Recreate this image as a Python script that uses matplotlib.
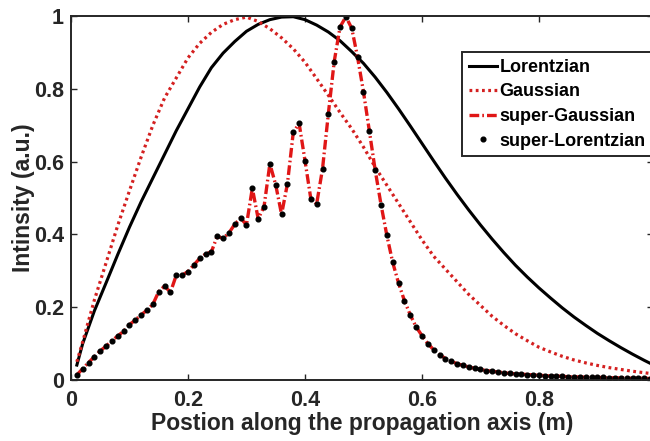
"""Intensity profiles along the propagation axis."""

import matplotlib

matplotlib.use("Agg")

import matplotlib.pyplot as plt
from matplotlib.ticker import FuncFormatter

# smooth profiles
smooth_x = [0.01, 0.02, 0.04, 0.06, 0.08, 0.10, 0.12, 0.14, 0.16, 0.18,
            0.20, 0.22, 0.24, 0.26, 0.28, 0.30, 0.32, 0.34, 0.36, 0.38,
            0.40, 0.42, 0.44, 0.46, 0.48, 0.50, 0.52, 0.54, 0.56, 0.58,
            0.60, 0.62, 0.64, 0.66, 0.68, 0.70, 0.72, 0.74, 0.76, 0.78,
            0.80, 0.82, 0.84, 0.86, 0.88, 0.90, 0.92, 0.94, 0.96, 0.98, 0.99]
lorentzian = [0.041, 0.10, 0.19, 0.267, 0.345, 0.42, 0.49, 0.555, 0.62, 0.685,
              0.745, 0.805, 0.858, 0.898, 0.93, 0.958, 0.977, 0.99, 0.997, 0.998,
              0.99, 0.975, 0.956, 0.932, 0.902, 0.87, 0.832, 0.79, 0.745, 0.698,
              0.65, 0.602, 0.555, 0.51, 0.467, 0.426, 0.387, 0.35, 0.315, 0.283,
              0.253, 0.225, 0.198, 0.173, 0.15, 0.128, 0.108, 0.089, 0.071, 0.054, 0.046]
gaussian = [0.05, 0.105, 0.22, 0.322, 0.425, 0.52, 0.613, 0.70, 0.775, 0.83,
            0.885, 0.925, 0.955, 0.977, 0.99, 0.997, 0.985, 0.965, 0.94, 0.91,
            0.873, 0.828, 0.782, 0.735, 0.69, 0.64, 0.585, 0.535, 0.485, 0.435,
            0.385, 0.34, 0.305, 0.27, 0.235, 0.205, 0.175, 0.15, 0.127, 0.108,
            0.09, 0.077, 0.065, 0.055, 0.047, 0.04, 0.034, 0.029, 0.024, 0.02, 0.018]

# super profiles, sampled every 0.01 m
super_x = [round(0.01 * i, 2) for i in range(1, 100)]
super_profile = [
    0.014, 0.031, 0.048, 0.064, 0.080, 0.093, 0.108, 0.121, 0.134, 0.152,
    0.165, 0.179, 0.192, 0.208, 0.243, 0.258, 0.241, 0.288, 0.288, 0.298,
    0.316, 0.334, 0.346, 0.352, 0.395, 0.389, 0.404, 0.428, 0.445, 0.426,
    0.527, 0.443, 0.476, 0.594, 0.536, 0.455, 0.539, 0.680, 0.705, 0.603,
    0.498, 0.484, 0.580, 0.732, 0.875, 0.970, 0.998, 0.966, 0.886, 0.792,
    0.685, 0.577, 0.482, 0.397, 0.323, 0.266, 0.218, 0.179, 0.146, 0.122,
    0.100, 0.083, 0.070, 0.059, 0.051, 0.045, 0.040, 0.036, 0.032, 0.029,
    0.026, 0.024, 0.022, 0.020, 0.018, 0.017, 0.016, 0.015, 0.014, 0.013,
    0.012, 0.011, 0.011, 0.010, 0.009, 0.009, 0.008, 0.008, 0.007, 0.007,
    0.007, 0.006, 0.006, 0.006, 0.005, 0.005, 0.005, 0.005, 0.004,
]

x_ticks = [0, 0.2, 0.4, 0.6, 0.8]
y_ticks = [0, 0.2, 0.4, 0.6, 0.8, 1]

AXIS_COLOR = "#262626"

plt.rcParams["font.family"] = ["Liberation Sans", "DejaVu Sans"]
plt.rcParams["font.weight"] = "bold"
plt.rcParams["lines.scale_dashes"] = False

fig = plt.figure(figsize=(6.5, 4.41), dpi=100)
ax = fig.add_axes([71 / 650, 61 / 441, 582 / 650, 364 / 441])

ax.plot(smooth_x, lorentzian, color="black", linewidth=2.2, label="Lorentzian")
ax.plot(smooth_x, gaussian, color="#d42020", linewidth=2.3,
        linestyle=(0, (2.0, 2.5)), label="Gaussian")
ax.plot(super_x, super_profile, color="#e01616", linewidth=2.4,
        linestyle=(0, (7, 2.2, 1.2, 2.2)), label="super-Gaussian")
ax.plot(super_x, super_profile, color="black", linestyle="none", marker="o",
        markersize=3.4, label="super-Lorentzian")

ax.set_xlim(0, 0.995)
ax.set_ylim(0, 1)
ax.set_xticks(x_ticks)
ax.set_yticks(y_ticks)
fmt = FuncFormatter(lambda v, pos: f"{v:g}")
ax.xaxis.set_major_formatter(fmt)
ax.yaxis.set_major_formatter(fmt)
ax.tick_params(direction="in", length=4, width=1.0, top=True, right=True,
               labelsize=15.5, colors=AXIS_COLOR, pad=5)
ax.tick_params(axis="x", pad=7)
for spine in ax.spines.values():
    spine.set_color(AXIS_COLOR)
    spine.set_linewidth(1.4)

ax.set_xlabel("Postion along the propagation axis (m)", fontsize=16.5,
              fontweight="bold", color=AXIS_COLOR, labelpad=1)
ax.set_ylabel("Intinsity (a.u.)", fontsize=16.5, fontweight="bold",
              color=AXIS_COLOR, labelpad=-1)

leg = ax.legend(loc="upper left", bbox_to_anchor=(462 / 650, 1 - 52 / 441),
                bbox_transform=fig.transFigure, fontsize=13, frameon=True,
                fancybox=False, framealpha=1, edgecolor=AXIS_COLOR,
                handlelength=1.55, handletextpad=0.15, borderpad=0.38,
                labelspacing=0.42, borderaxespad=0)
leg.get_frame().set_linewidth(1.4)

fig.savefig("out.png", dpi=100)
